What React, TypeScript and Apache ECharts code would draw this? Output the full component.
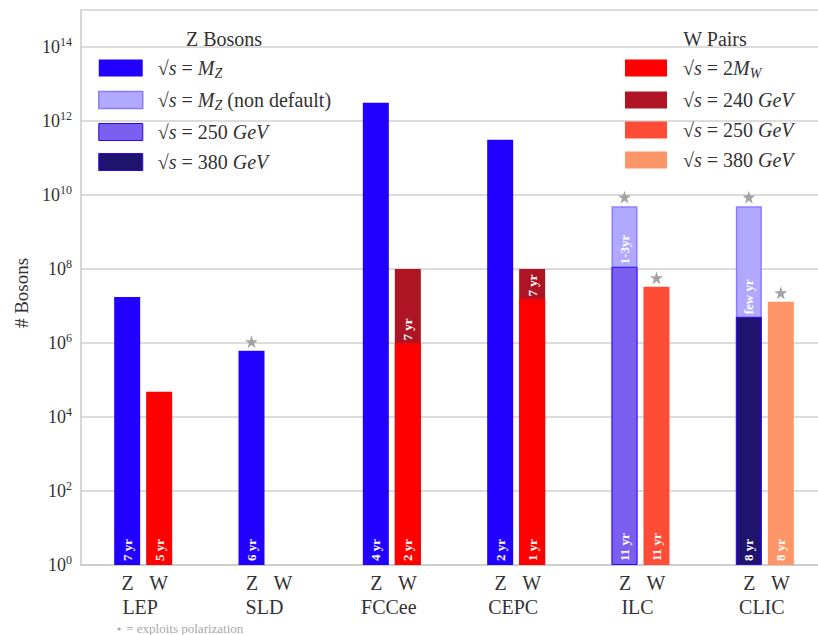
import React, { useEffect, useRef } from 'react';
import * as echarts from 'echarts';

// ---------- data ----------
const categories = ['LEP', 'SLD', 'FCCee', 'CEPC', 'ILC', 'CLIC'];

// Z boson bars (back layer = tallest, front layer = drawn over it)
const zBackValues: (number | null)[] = [1.75e7, 6.2e5, 3.1e12, 3.1e11, 5.0e9, 5.0e9];
const zBackKinds: (string | null)[] = ['zMZ', 'zMZ', 'zMZ', 'zMZ', 'zND', 'zND'];
const zFrontValues: (number | null)[] = [null, null, null, null, 1.15e8, 5.1e6];
const zFrontKinds: (string | null)[] = [null, null, null, null, 'z250', 'z380'];

// W pair bars
const wBackValues: (number | null)[] = [4.8e4, null, 1.0e8, 1.0e8, 3.3e7, 1.3e7];
const wBackKinds: (string | null)[] = ['w2MW', null, 'w240', 'w240', 'w250', 'w380'];
const wFrontValues: (number | null)[] = [null, null, 1.0e6, 1.55e7, null, null];
const wFrontKinds: (string | null)[] = [null, null, 'w2MW', 'w2MW', null, null];

// run-time labels
const zYears = ['7 yr', '6 yr', '4 yr', '2 yr', '11 yr', '8 yr'];
const wYears = ['5 yr', '', '2 yr', '1 yr', '11 yr', '8 yr'];
const zUpperNotes: (string | null)[] = [null, null, null, null, '1-3yr', 'few yr'];
const wUpperNotes: (string | null)[] = [null, null, '7 yr', '7 yr', null, null];

// polarization stars
const zPolarized = [false, true, false, false, true, true];
const wPolarized = [false, false, false, false, true, true];

// legends
const zLegendKeys = ['zMZ', 'zND', 'z250', 'z380'];
const wLegendKeys = ['w2MW', 'w240', 'w250', 'w380'];
const legendText: Record<string, string> = {
  zMZ: '{r|√}{i|s}{r| = }{i|M}{sub|Z}',
  zND: '{r|√}{i|s}{r| = }{i|M}{sub|Z}{r| (non default)}',
  z250: '{r|√}{i|s}{r| = 250 }{i|GeV}',
  z380: '{r|√}{i|s}{r| = 380 }{i|GeV}',
  w2MW: '{r|√}{i|s}{r| = 2}{i|M}{sub|W}',
  w240: '{r|√}{i|s}{r| = 240 }{i|GeV}',
  w250: '{r|√}{i|s}{r| = 250 }{i|GeV}',
  w380: '{r|√}{i|s}{r| = 380 }{i|GeV}',
};

// ---------- styles ----------
const FONT = "'Liberation Serif', 'Times New Roman', 'DejaVu Serif', serif";
const TEXT = '#333333';
const GRID_COLOR = '#d0d0d0';

const STYLES: Record<string, any> = {
  zMZ: { color: '#2200ff' },
  zND: { color: '#b0a9ff', borderColor: '#8a7dff', borderWidth: 1.5 },
  z250: { color: '#7b5ff0', borderColor: '#2a08ff', borderWidth: 1 },
  z380: { color: '#1f136e', borderColor: '#2a08ff', borderWidth: 1 },
  w2MW: { color: '#ff0000' },
  w240: { color: '#ae1423' },
  w250: { color: '#ff4c36' },
  w380: { color: '#fe9568' },
};

const STAR =
  'path://M50,0 L61.2,34.5 L97.6,34.5 L68.2,55.9 L79.4,90.5 L50,69.1 L20.6,90.5 L31.8,55.9 L2.4,34.5 L38.8,34.5 Z';

function barData(values: (number | null)[], kinds: (string | null)[]) {
  return values.map((v, i) =>
    v == null ? '-' : { value: v, itemStyle: { ...STYLES[kinds[i] as string] } }
  );
}

const barLabelBase = {
  show: true,
  position: 'insideBottom',
  distance: 4,
  rotate: 90,
  align: 'left',
  verticalAlign: 'middle',
  color: '#ffffff',
  fontFamily: FONT,
  fontWeight: 'bold',
  fontSize: 13,
};

function starMarks(values: (number | null)[], flags: boolean[]) {
  return {
    symbol: STAR,
    symbolSize: 13,
    symbolOffset: [0, -9],
    itemStyle: { color: '#a3a3a3' },
    label: { show: false },
    silent: true,
    data: values
      .map((v, i) => (flags[i] && v != null ? { coord: [i, v] } : null))
      .filter((d) => d != null),
  };
}

function noteMarks(values: (number | null)[], notes: (string | null)[]) {
  return {
    symbol: 'circle',
    symbolSize: 1,
    itemStyle: { color: 'rgba(0,0,0,0)' },
    silent: true,
    label: {
      show: true,
      position: 'top',
      distance: 2,
      rotate: 90,
      align: 'left',
      verticalAlign: 'middle',
      color: '#ffffff',
      fontFamily: FONT,
      fontWeight: 'bold',
      fontSize: 13,
      formatter: '{b}',
    },
    data: values
      .map((v, i) => (notes[i] && v != null ? { name: notes[i], coord: [i, v] } : null))
      .filter((d) => d != null),
  };
}

function legendRich() {
  return {
    r: { fontFamily: FONT, fontSize: 20, color: TEXT, lineHeight: 24 },
    i: { fontFamily: FONT, fontSize: 20, fontStyle: 'italic', color: TEXT, lineHeight: 24 },
    sub: {
      fontFamily: FONT,
      fontSize: 14,
      fontStyle: 'italic',
      color: TEXT,
      lineHeight: 14,
      verticalAlign: 'bottom',
    },
  };
}

function makeLegend(keys: string[], left: number, iconWidth: number, textPad: number) {
  return {
    show: true,
    orient: 'vertical',
    left,
    top: 58,
    padding: 0,
    itemWidth: iconWidth,
    itemHeight: 17,
    itemGap: 10,
    selectedMode: false,
    icon: 'rect',
    data: keys.map((k) => ({ name: k, icon: 'rect', itemStyle: { ...STYLES[k] } })),
    formatter: (name: string) => legendText[name],
    textStyle: {
      fontFamily: FONT,
      fontSize: 20,
      color: TEXT,
      padding: [0, 0, 0, textPad],
      rich: legendRich(),
    },
  };
}

function buildOption(): any {
  const legendSeries = [...zLegendKeys, ...wLegendKeys].map((k) => ({
    type: 'line',
    name: k,
    data: [],
    xAxisIndex: 0,
    yAxisIndex: 0,
    itemStyle: { color: STYLES[k].color },
    lineStyle: { color: STYLES[k].color },
  }));

  return {
    animation: false,
    backgroundColor: '#ffffff',
    grid: { left: 81, top: 10, width: 746, height: 555, outerBoundsMode: 'none', containLabel: false },
    legend: [makeLegend(zLegendKeys, 98, 44, 10), makeLegend(wLegendKeys, 625, 42, 11)],
    xAxis: [
      {
        type: 'category',
        data: categories,
        axisLine: { show: true, onZero: false, lineStyle: { color: '#c8c8c8', width: 1.5 } },
        axisTick: { show: false },
        splitLine: { show: false },
        axisLabel: {
          margin: 6,
          interval: 0,
          formatter: (v: string) => `{z|Z}{w|W}\n{n|${v}}`,
          rich: {
            z: { width: 31, align: 'center', fontFamily: FONT, fontSize: 20, color: TEXT, lineHeight: 24 },
            w: { width: 31, align: 'center', fontFamily: FONT, fontSize: 20, color: TEXT, lineHeight: 24 },
            n: {
              align: 'center',
              fontFamily: FONT,
              fontSize: 20,
              color: TEXT,
              lineHeight: 24,
              padding: [0, 6, 0, 0],
            },
          },
        },
      },
      { type: 'category', data: categories, show: false },
    ],
    yAxis: {
      type: 'log',
      logBase: 100,
      min: 1,
      max: 1e15,
      axisLine: { show: true, lineStyle: { color: '#c8c8c8', width: 1.5 } },
      axisTick: { show: false },
      splitLine: { show: true, lineStyle: { color: GRID_COLOR, width: 1.5 } },
      axisLabel: {
        margin: 9,
        formatter: (v: number) => {
          const e = Math.round(Math.log10(v));
          return e % 2 === 0 && e <= 14 ? `{b|10}{s|${e}}` : '';
        },
        rich: {
          b: { fontFamily: FONT, fontSize: 18, color: TEXT, lineHeight: 22 },
          s: { fontFamily: FONT, fontSize: 12, color: TEXT, lineHeight: 12, verticalAlign: 'top' },
        },
      },
    },
    graphic: [
      {
        type: 'text',
        x: 224,
        y: 39,
        style: { text: 'Z Bosons', fontFamily: FONT, fontSize: 20, fill: TEXT, align: 'center', verticalAlign: 'middle' },
      },
      {
        type: 'text',
        x: 715,
        y: 39,
        style: { text: 'W Pairs', fontFamily: FONT, fontSize: 20, fill: TEXT, align: 'center', verticalAlign: 'middle' },
      },
      {
        type: 'text',
        x: 31,
        y: 293,
        rotation: Math.PI / 2,
        style: { text: '# Bosons', fontFamily: FONT, fontSize: 19, fill: TEXT, align: 'center', verticalAlign: 'bottom' },
      },
      {
        type: 'text',
        x: 115,
        y: 628,
        style: {
          text: '⋆ = exploits polarization',
          fontFamily: FONT,
          fontSize: 13,
          fill: '#a8a8a8',
          align: 'left',
          verticalAlign: 'middle',
        },
      },
    ],
    series: [
      {
        type: 'bar',
        name: 'Z back',
        xAxisIndex: 0,
        barWidth: 26,
        barGap: '23%',
        data: barData(zBackValues, zBackKinds),
        label: {
          ...barLabelBase,
          formatter: (p: any) => (zFrontValues[p.dataIndex] == null ? zYears[p.dataIndex] : ''),
        },
        markPoint: starMarks(zBackValues, zPolarized),
      },
      {
        type: 'bar',
        name: 'W back',
        xAxisIndex: 0,
        barWidth: 26,
        barGap: '23%',
        data: barData(wBackValues, wBackKinds),
        label: {
          ...barLabelBase,
          formatter: (p: any) => (wFrontValues[p.dataIndex] == null ? wYears[p.dataIndex] : ''),
        },
        markPoint: starMarks(wBackValues, wPolarized),
      },
      {
        type: 'bar',
        name: 'Z front',
        xAxisIndex: 1,
        barWidth: 26,
        barGap: '23%',
        data: barData(zFrontValues, zFrontKinds),
        label: { ...barLabelBase, formatter: (p: any) => zYears[p.dataIndex] },
        markPoint: noteMarks(zFrontValues, zUpperNotes),
      },
      {
        type: 'bar',
        name: 'W front',
        xAxisIndex: 1,
        barWidth: 26,
        barGap: '23%',
        data: barData(wFrontValues, wFrontKinds),
        label: { ...barLabelBase, formatter: (p: any) => wYears[p.dataIndex] },
        markPoint: noteMarks(wFrontValues, wUpperNotes),
      },
      ...legendSeries,
    ],
  };
}

export default function App() {
  const ref = useRef<HTMLDivElement>(null);
  useEffect(() => {
    document.body.style.margin = '0';
    const chart = echarts.init(ref.current as HTMLDivElement, null, { renderer: 'svg' });
    chart.setOption(buildOption());
    return () => chart.dispose();
  }, []);
  return <div ref={ref} style={{ width: 818, height: 635 }} />;
}
